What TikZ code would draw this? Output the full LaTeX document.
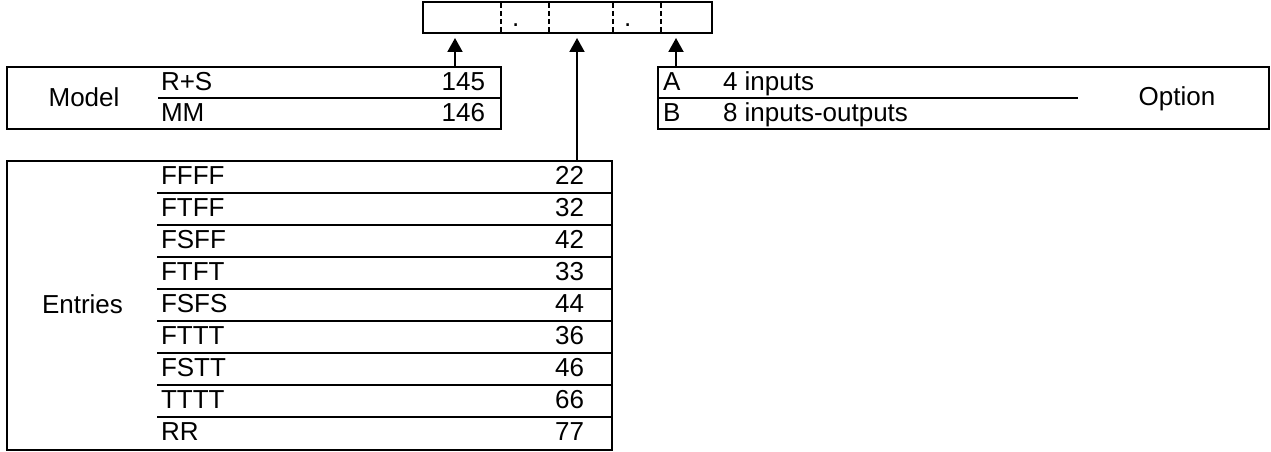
\documentclass[tikz,border=0pt]{standalone}
\usepackage{fontspec}
\setmainfont{Liberation Sans}
\usepackage{tikz}
\usetikzlibrary{arrows.meta}
\tikzset{>=latex}

\begin{document}
\begin{tikzpicture}[x=1pt,y=1pt,line width=2pt,
		every node/.style={font=\fontsize{26}{30}\selectfont,inner sep=0pt},
		box/.style={draw,rectangle},
		txt/.style={anchor=base west},
		num/.style={anchor=base east},
		lbl/.style={anchor=base},
		arr/.style={-{Triangle[length=14pt,width=15pt]},shorten >=4pt},
		divline/.style={dash pattern=on 5pt off 3pt}]
		\useasboundingbox (0,0) rectangle (1271,-452);
		% Code box
		\node[box,minimum width=289pt,minimum height=31pt] (code) at (567.5,-17.5) {};
		\foreach \x in {501,549,613,661}
			\draw[divline] (\x,-3) -- (\x,-32);
		\node[txt] (dotA) at (511,-27) {.};
		\node[txt] (dotB) at (623,-27) {.};
		% Model
		\node[box,minimum width=494pt,minimum height=62pt] (model) at (254,-98) {};
		\draw (158,-98) -- (501,-98);
		\node[lbl] (modelLbl) at (84,-106.5) {Model};
		\node[txt] (rs) at (160,-90.5) {R+S};
		\node[num] (n145) at (486,-90.5) {145};
		\node[txt] (mm) at (160,-121.5) {MM};
		\node[num] (n146) at (486,-121.5) {146};
		% Entries
		\node[box,minimum width=605pt,minimum height=289pt] (entries) at (309.5,-305.5) {};
		\foreach \y in {193,225,...,417}
			\draw (157,-\y) -- (612,-\y);
		\node[lbl] (entLbl) at (82.5,-313) {Entries};
		\foreach \code/\val [count=\i from 0] in {FFFF/22,FTFF/32,FSFF/42,FTFT/33,FSFS/44,FTTT/36,FSTT/46,TTTT/66,RR/77}
		{
			\node[txt] (ent\i) at (160,-184-32*\i) {\code};
			\node[num] (val\i) at (585,-184-32*\i) {\val};
		}
		% Option
		\node[box,minimum width=611pt,minimum height=62pt] (option) at (963.5,-98) {};
		\draw (658,-98) -- (1078,-98);
		\node[txt] (optA) at (662,-90.5) {A};
		\node[txt] (optAtxt) at (722,-90.5) {4 inputs};
		\node[txt] (optB) at (662,-121.5) {B};
		\node[txt] (optBtxt) at (722,-121.5) {8 inputs-outputs};
		\node[lbl] (optLbl) at (1177,-105.5) {Option};
		% Arrows
		\coordinate (pModel) at (455,0);
		\coordinate (pEnt) at (577,0);
		\coordinate (pOpt) at (676,0);
		\draw[arr] (model.north -| pModel) -- (code.south -| pModel);
		\draw[arr] (entries.north -| pEnt) -- (code.south -| pEnt);
		\draw[arr] (option.north -| pOpt) -- (code.south -| pOpt);
\end{tikzpicture}
\end{document}
